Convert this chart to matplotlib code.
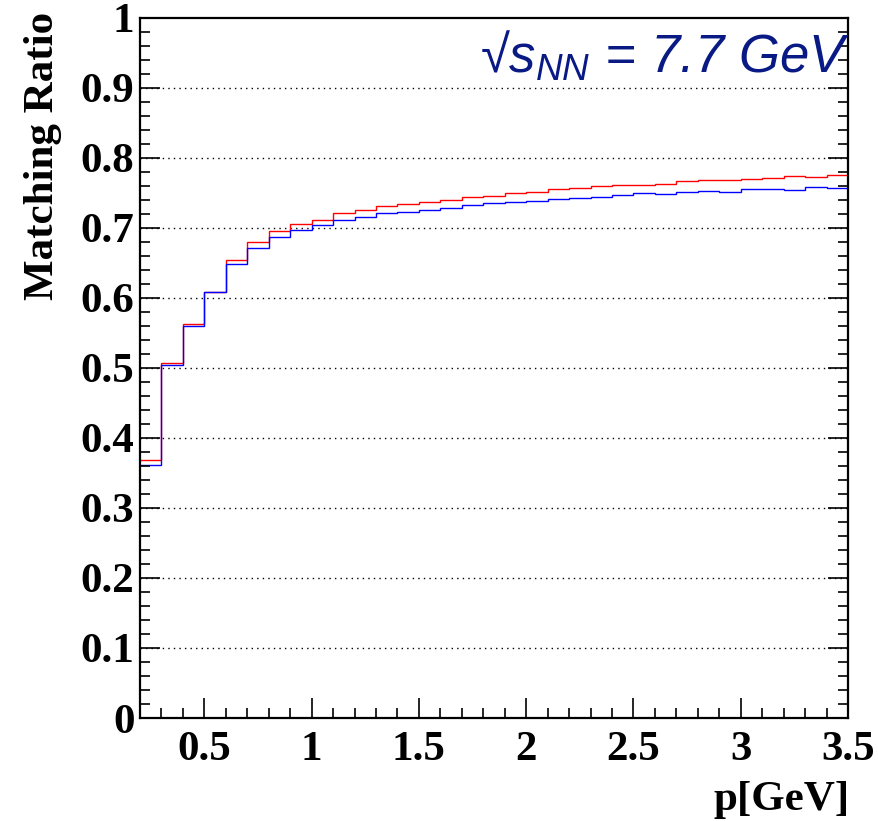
import numpy as np
import matplotlib
matplotlib.use("Agg")
import matplotlib.pyplot as plt
from matplotlib.ticker import MultipleLocator

plt.rcParams["mathtext.fontset"] = "custom"
plt.rcParams["mathtext.it"] = "Liberation Sans:italic"
plt.rcParams["mathtext.rm"] = "Liberation Sans"

# bin edges in p [GeV], 0.1 GeV wide
p_edges = np.round(np.linspace(0.2, 3.5, 34), 2)

# matching ratio per bin
red_ratio = [0.3686, 0.5076, 0.5624, 0.6090, 0.6538, 0.6795, 0.6960, 0.7057,
             0.7119, 0.7214, 0.7262, 0.7319, 0.7343, 0.7376, 0.7400, 0.7443,
             0.7462, 0.7500, 0.7519, 0.7562, 0.7576, 0.7595, 0.7610, 0.7614,
             0.7629, 0.7667, 0.7690, 0.7686, 0.7705, 0.7714, 0.7738, 0.7733,
             0.7752]
blue_ratio = [0.3614, 0.5040, 0.5605, 0.6086, 0.6480, 0.6719, 0.6876, 0.6971,
              0.7043, 0.7114, 0.7157, 0.7210, 0.7229, 0.7262, 0.7290, 0.7329,
              0.7357, 0.7376, 0.7386, 0.7419, 0.7433, 0.7448, 0.7471, 0.7495,
              0.7486, 0.7514, 0.7524, 0.7519, 0.7557, 0.7562, 0.7548, 0.7581,
              0.7576]

x_ticks = [0.5, 1, 1.5, 2, 2.5, 3, 3.5]
x_ticklabels = ["0.5", "1", "1.5", "2", "2.5", "3", "3.5"]
y_ticks = [0, 0.1, 0.2, 0.3, 0.4, 0.5, 0.6, 0.7, 0.8, 0.9, 1.0]
y_ticklabels = ["0", "0.1", "0.2", "0.3", "0.4", "0.5", "0.6", "0.7", "0.8", "0.9", "1"]

W, H = 879, 821
fig = plt.figure(figsize=(W / 100, H / 100), dpi=100)
ax = fig.add_axes([140 / W, 1 - 718 / H, (848 - 140) / W, (718 - 18) / H])

ax.stairs(red_ratio, p_edges, color="red", linewidth=1.0, baseline=None)
ax.stairs(blue_ratio, p_edges, color="blue", linewidth=1.0, baseline=None)

ax.set_xlim(0.2, 3.5)
ax.set_ylim(0, 1)

# dotted horizontal grid
for y in y_ticks[1:-1]:
    ax.axhline(y, color="black", linestyle=(0, (1, 3)), linewidth=1.0, zorder=0)

tick_font = {"family": "Liberation Serif", "weight": "bold", "size": 31}
ax.set_xticks(x_ticks)
ax.set_xticklabels(x_ticklabels, fontdict=tick_font)
ax.set_yticks(y_ticks)
ax.set_yticklabels(y_ticklabels, fontdict=tick_font)
ax.xaxis.set_minor_locator(MultipleLocator(0.1))
ax.yaxis.set_minor_locator(MultipleLocator(0.02))

ax.tick_params(which="both", direction="in", right=True, top=False, width=1.2)
ax.tick_params(which="major", length=14.5)
ax.tick_params(which="minor", length=7.5)
ax.tick_params(axis="x", which="major", pad=9)
ax.tick_params(axis="y", which="major", pad=4)

for s in ax.spines.values():
    s.set_linewidth(1.6)

fig.text(43 / W, 1 - 12 / H, "Matching Ratio", rotation=90, ha="center", va="top",
         family="Liberation Serif", weight="bold", size=31)
fig.text(850 / W, 1 - 800 / H, "p[GeV]", ha="right", va="center",
         family="Liberation Serif", weight="bold", size=31)

fig.text(480 / W, 1 - 73 / H, r"√$s_{NN}$ = 7.7 GeV", ha="left", va="baseline",
         family="Liberation Sans", style="italic", size=38, color="#0a1a85")

fig.savefig("out.png", dpi=100)
